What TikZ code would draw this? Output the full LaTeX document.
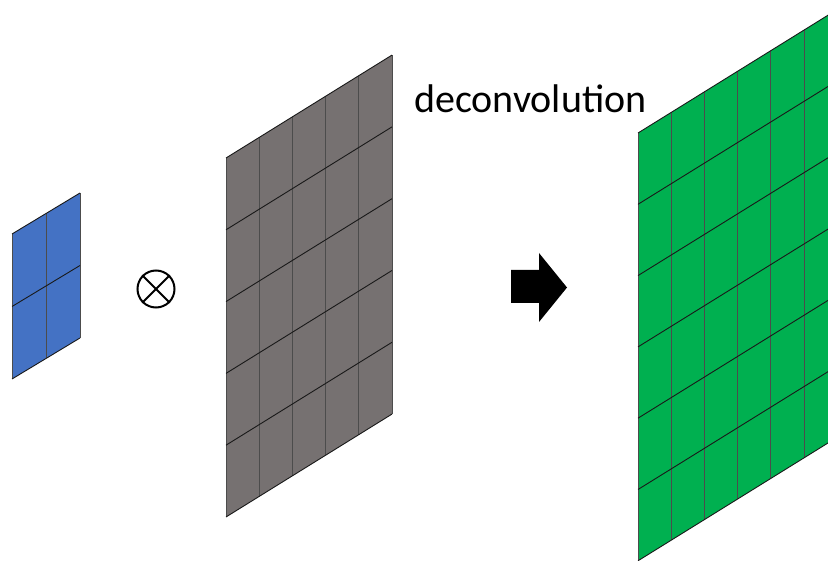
\documentclass[tikz,border=0pt]{standalone}
\usepackage{fontspec}
\setmainfont{Carlito}
\definecolor{kernelblue}{HTML}{4472C4}
\definecolor{inputgray}{HTML}{767171}
\definecolor{outputgreen}{HTML}{00B050}
\tikzset{
  hline/.style={draw=black!90, line width=0.9pt},
  vline/.style={draw=black!70, line width=0.7pt},
}
% sheared grid: top-left (x0,y0), cell width, cell height, rise per unit x,
% columns, rows, fill colour
\newcommand\skewgrid[8]{%
  \fill[#8] (#1,#2) -- ({#1+#6*#3},{#2-#5*#6*#3})
     -- ({#1+#6*#3},{#2+#7*#4-#5*#6*#3}) -- (#1,{#2+#7*#4}) -- cycle;
  \foreach \i in {0,...,#6}
    \draw[vline] ({#1+\i*#3},{#2-#5*\i*#3}) -- ({#1+\i*#3},{#2+#7*#4-#5*\i*#3});
  \foreach \j in {0,...,#7}
    \draw[hline] (#1,{#2+\j*#4}) -- ({#1+#6*#3},{#2+\j*#4-#5*#6*#3});
}
\begin{document}
\begin{tikzpicture}[x=1pt,y=-1pt]
  \useasboundingbox (0,0) rectangle (828,561);
  \begin{scope}
    \clip (0,0) rectangle (828,561);
    % kernel
    \skewgrid{12}{234}{34}{72.5}{0.603}{2}{2}{kernelblue}
    % input feature map
    \skewgrid{226}{158}{33.2}{71.8}{0.62}{5}{5}{inputgray}
    % output feature map
    \skewgrid{638}{133}{33.2}{71.3}{0.62}{7}{6}{outputgreen}
  \end{scope}
  % operator
  \node[circle, draw, line width=2pt, minimum size=37pt, inner sep=0pt] (otimes) at (156,289) {};
  \draw[line width=2pt] (otimes.north west) -- (otimes.south east);
  \draw[line width=2pt] (otimes.north east) -- (otimes.south west);
  % arrow
  \fill[black] (511,270) -- (539,270) -- (539,253) -- (567,287.5)
     -- (539,322) -- (539,303) -- (511,303) -- cycle;
  \node[anchor=base west, inner sep=0pt, font=\fontsize{40}{44}\selectfont] (label) at (414,113) {deconvolution};
\end{tikzpicture}
\end{document}
